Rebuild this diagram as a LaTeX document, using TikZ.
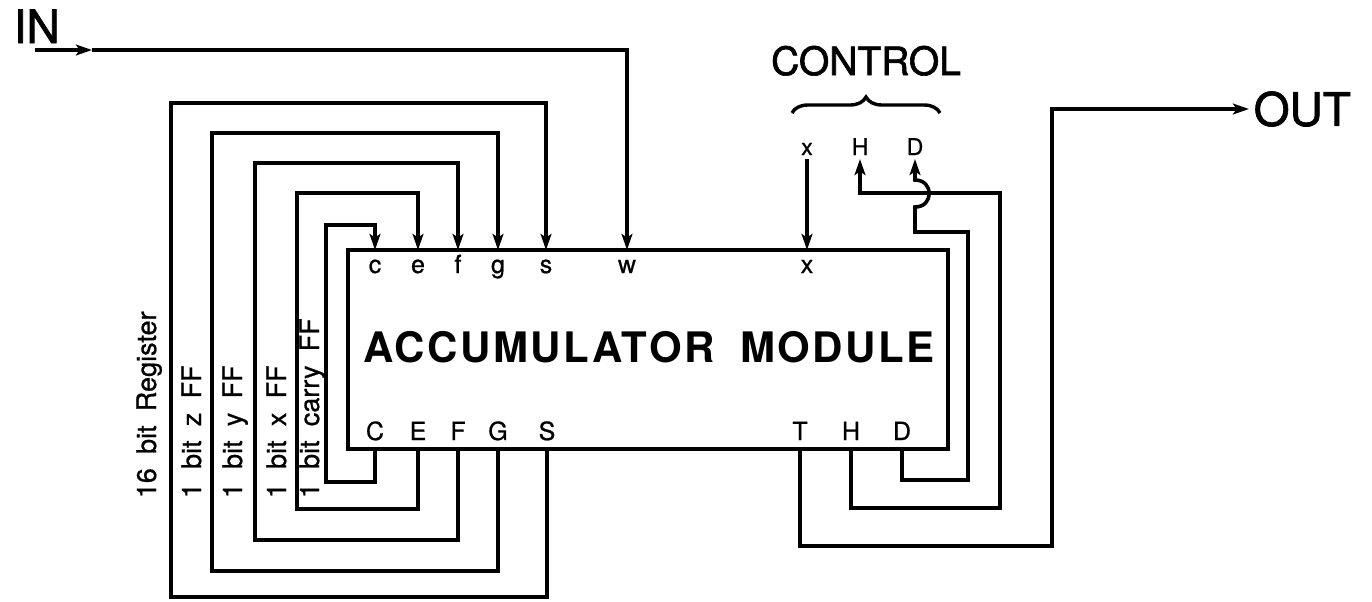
\documentclass[tikz,border=0pt]{standalone}
\usepackage{fontspec}
\setmainfont[FakeBold=0.8]{TeX Gyre Heros}
\newfontfamily\medfont[FakeBold=1.6]{TeX Gyre Heros}
\newfontfamily\sidefont[WordSpace=1.9,FakeBold=0.8]{TeX Gyre Heros}
\newfontfamily\modfont[LetterSpace=6,WordSpace=1.8]{TeX Gyre Heros}
\usetikzlibrary{arrows.meta,decorations.pathreplacing}

\begin{document}
\begin{tikzpicture}[
    x=0.5pt, y=-0.5pt,
    >={Stealth[length=8pt,width=5.4pt,inset=1.8pt]},
    line width=1.8pt,
    pin/.style={font=\fontsize{12.5}{14}\selectfont, anchor=base, inner sep=0pt},
    ctl/.style={font=\fontsize{11.5}{13}\selectfont, anchor=base, inner sep=0pt},
    side/.style={font=\sidefont\fontsize{13.5}{15}\selectfont, rotate=90, anchor=base west, inner sep=0pt},
    big/.style={font=\medfont\fontsize{23}{26}\selectfont, inner sep=0pt}
]
    \useasboundingbox (0,0) rectangle (1372,601);

    % module
    \node[draw, minimum width=300pt, minimum height=99.5pt, inner sep=0pt] (acc) at (648,349.5) {};
    \node[font=\modfont\bfseries\fontsize{21}{24}\selectfont, anchor=base] (name) at (649,362) {ACCUMULATOR MODULE};

    % pins
    \foreach \n/\x in {c/375, e/418, f/458, g/498, s/546, w/627, x/807} {
        \coordinate (p\n) at (\x,250);
        \node[pin] (l\n) at (\x,273) {\n};
    }
    \foreach \n/\x in {C/375, E/418, F/458, G/498, S/547, T/800, H/851, D/902} {
        \coordinate (p\n) at (\x,449);
        \node[pin] (l\n) at (\x,440) {\n};
    }

    % control lines
    \node[font=\medfont\fontsize{19.5}{22}\selectfont, anchor=base, inner sep=0pt] (control) at (866,75) {CONTROL};
    \coordinate (bl) at (792,113);
    \coordinate (br) at (940,113);
    \draw[decorate, decoration={brace, amplitude=8pt}, line width=1.7pt] (bl) -- (br);
    \foreach \n/\x in {x/807, H/860, D/915} {
        \node[ctl] (t\n) at (\x,155) {\n};
        \coordinate (c\n) at (\x,159);
    }

    % in and out
    \node[big, anchor=base west] (in) at (12,43) {IN};
    \node[big, anchor=west, inner sep=1.5pt] (out) at (1249,109) {OUT};
    \coordinate (instart) at (35,50);
    \coordinate (inmid) at (92,50);
    \draw[->] (instart) -- (inmid);
    \draw[->] (inmid) -| (pw);

    % storage loops
    \foreach \lo/\up/\xl/\yb/\yt in {C/c/326/482/225, E/e/297/509/193, F/f/255/540/163, G/g/212/571/133, S/s/171/597/103}
        \draw[->] (p\lo) |- (\xl,\yb) -- (\xl,\yt) -| (p\up);

    \node[side] (reg) at (156,500) {16 bit Register};
    \node[side] (zff) at (201,500) {1 bit z FF};
    \node[side] (yff) at (242,500) {1 bit y FF};
    \node[side] (xff) at (286,500) {1 bit x FF};
    \node[side] (cff) at (319,500) {1 bit carry FF};

    % right side
    \draw[->] (cx) -- (px);
    \draw[->] (pH) |- (1000,508) -- (1000,193) -| (cH);
    \draw[->] (pD) |- (968,480) -- (968,232) -| (915,207)
        .. controls (934,207) and (934,180) .. (915,180) -- (cD);
    \draw[->] (pT) |- (1052,546) |- (out.west);
\end{tikzpicture}
\end{document}
